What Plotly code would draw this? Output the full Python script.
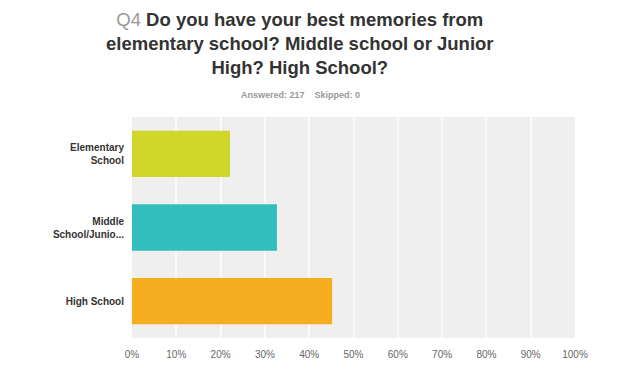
import plotly.graph_objects as go

categories = ["Elementary<br>School", "Middle<br>School/Junio...", "High School"]
values = [22.12, 32.72, 45.16]
colors = ["#d0d62a", "#33bebe", "#f6ae20"]
tick_vals = [0, 10, 20, 30, 40, 50, 60, 70, 80, 90, 100]
tick_text = [f"{v}%" for v in tick_vals]

fig = go.Figure()
fig.add_trace(go.Bar(
    x=values, y=categories, orientation="h",
    marker=dict(color=colors, line=dict(width=0)),
    hoverinfo="skip",
))

W, H = 640, 381
L, R, T, B = 132, 65, 117, 43
PW, PH = W - L - R, H - T - B


def px_x(x):
    return (x - L) / PW


def px_y(y):
    return (H - B - y) / PH


fig.update_layout(
    width=W, height=H,
    margin=dict(l=L, r=R, t=T, b=B),
    paper_bgcolor="white",
    plot_bgcolor="#efefef",
    showlegend=False,
    bargap=0.37,
    font=dict(family="Liberation Sans, Arial, sans-serif"),
    xaxis=dict(
        range=[0, 100], tickvals=tick_vals, ticktext=tick_text,
        showgrid=True, gridcolor="#fafafa", gridwidth=1.5,
        zeroline=False, showline=False,
        tickfont=dict(size=10, color="#666666"),
        ticks="", ticklabelstandoff=9, fixedrange=True,
    ),
    yaxis=dict(
        autorange="reversed",
        showgrid=False, zeroline=False, showline=False,
        tickfont=dict(size=10, color="#333333", weight="bold",
                      family="Liberation Sans, Arial, sans-serif"),
        ticks="", ticklabelstandoff=7,
        fixedrange=True,
    ),
    annotations=[
        dict(
            text="<span style='color:#999999;font-weight:normal'>Q4</span> <b>Do you have your best memories from<br>elementary school? Middle school or Junior<br>High? High School?</b>",
            x=px_x(300), y=px_y(7), xref="paper", yref="paper",
            xanchor="center", yanchor="top", showarrow=False,
            font=dict(size=18.5, color="#333333", family="Liberation Sans, Arial, sans-serif"),
            align="center",
        ),
        dict(
            text="<b>Answered: 217&nbsp;&nbsp;&nbsp;&nbsp;Skipped: 0</b>",
            x=px_x(300), y=px_y(95), xref="paper", yref="paper",
            xanchor="center", yanchor="middle", showarrow=False,
            font=dict(size=9, color="#999999", family="Liberation Sans, Arial, sans-serif"),
        ),
    ],
)

fig.write_html("out.html")
